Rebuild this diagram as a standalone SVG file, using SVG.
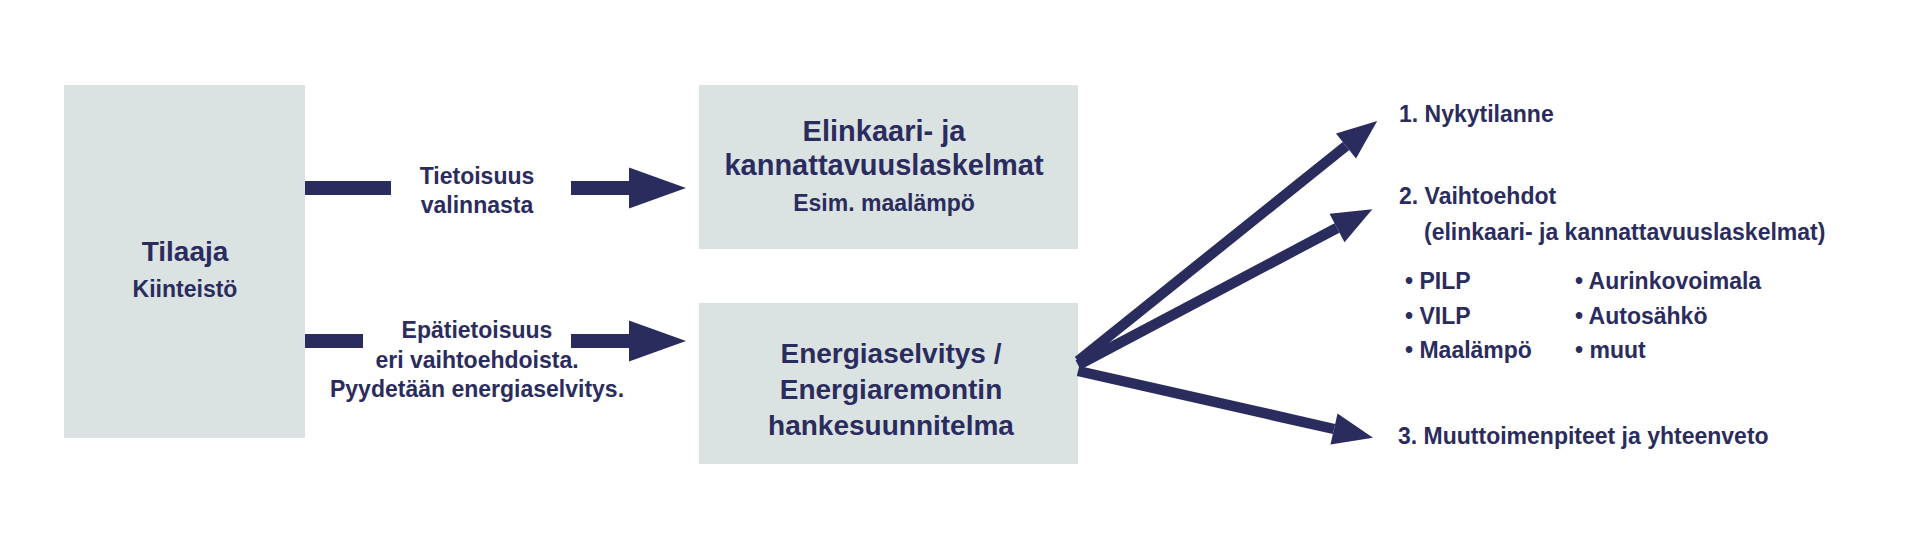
<svg xmlns="http://www.w3.org/2000/svg" width="1920" height="547" viewBox="0 0 1920 547">
  <style>
    .box { fill: #dbe3e2; }
    .t { font-family: "Liberation Sans", Arial, sans-serif; font-weight: bold; fill: #2b2c5e; }
    .c { text-anchor: middle; }
    .f29 { font-size: 29px; }
    .f28 { font-size: 28px; }
    .f23 { font-size: 23px; }
    .bar { fill: #2b2c5e; }
    .shaft { stroke: #2b2c5e; stroke-width: 14; fill: none; }
    .diag { stroke: #2b2c5e; stroke-width: 10.5; fill: none; }
  </style>
  <defs>
    <marker id="bighead" markerUnits="userSpaceOnUse" markerWidth="57" markerHeight="41" refX="0" refY="20.5" orient="auto" overflow="visible">
      <path d="M0,0 L57,20.5 L0,41 Z" fill="#2b2c5e"/>
    </marker>
    <marker id="head" markerUnits="userSpaceOnUse" markerWidth="40" markerHeight="32" refX="0" refY="16" orient="auto" overflow="visible">
      <path d="M0,0 L40,16 L0,32 Z" fill="#2b2c5e"/>
    </marker>
  </defs>
  <rect width="1920" height="547" fill="#ffffff"/>

  <g id="node-tilaaja">
    <rect class="box" x="64" y="85" width="241" height="353"/>
    <text class="t c f28" x="185" y="261">Tilaaja</text>
    <text class="t c f23" x="185" y="297">Kiinteistö</text>
  </g>

  <g id="node-elinkaari">
    <rect class="box" x="699" y="85" width="379" height="164"/>
    <text class="t c f29" x="884" y="141">Elinkaari- ja</text>
    <text class="t c f29" x="884" y="175">kannattavuuslaskelmat</text>
    <text class="t c f23" x="884" y="211">Esim. maalämpö</text>
  </g>

  <g id="node-energiaselvitys">
    <rect class="box" x="699" y="303" width="379" height="161"/>
    <text class="t c f28" x="891" y="363">Energiaselvitys /</text>
    <text class="t c f28" x="891" y="399">Energiaremontin</text>
    <text class="t c f28" x="891" y="435">hankesuunnitelma</text>
  </g>

  <g id="node-results">
    <text class="t f23" x="1399" y="122">1. Nykytilanne</text>
    <text class="t f23" x="1399" y="204">2. Vaihtoehdot</text>
    <text class="t f23" x="1424" y="240">(elinkaari- ja kannattavuuslaskelmat)</text>
    <text class="t f23" x="1405" y="289">• PILP</text>
    <text class="t f23" x="1405" y="324">• VILP</text>
    <text class="t f23" x="1405" y="358">• Maalämpö</text>
    <text class="t f23" x="1575" y="289">• Aurinkovoimala</text>
    <text class="t f23" x="1575" y="324">• Autosähkö</text>
    <text class="t f23" x="1575" y="358">• muut</text>
    <text class="t f23" x="1398" y="444">3. Muuttoimenpiteet ja yhteenveto</text>
  </g>

  <g id="connectors">
    <rect class="bar" x="305" y="181" width="86" height="14"/>
    <line class="shaft" x1="571" y1="188" x2="629" y2="188" marker-end="url(#bighead)"/>
    <text class="t c f23" x="477" y="184">Tietoisuus</text>
    <text class="t c f23" x="477" y="213">valinnasta</text>

    <rect class="bar" x="305" y="334" width="58" height="14"/>
    <line class="shaft" x1="571" y1="341" x2="629" y2="341" marker-end="url(#bighead)"/>
    <text class="t c f23" x="477" y="338">Epätietoisuus</text>
    <text class="t c f23" x="477" y="368">eri vaihtoehdoista.</text>
    <text class="t c f23" x="477" y="397">Pyydetään energiaselvitys.</text>

    <line class="diag" x1="1078" y1="361" x2="1346" y2="146" marker-end="url(#head)"/>
    <line class="diag" x1="1078" y1="365" x2="1337" y2="228" marker-end="url(#head)"/>
    <line class="diag" x1="1078" y1="371" x2="1334" y2="429" marker-end="url(#head)"/>
  </g>
</svg>
